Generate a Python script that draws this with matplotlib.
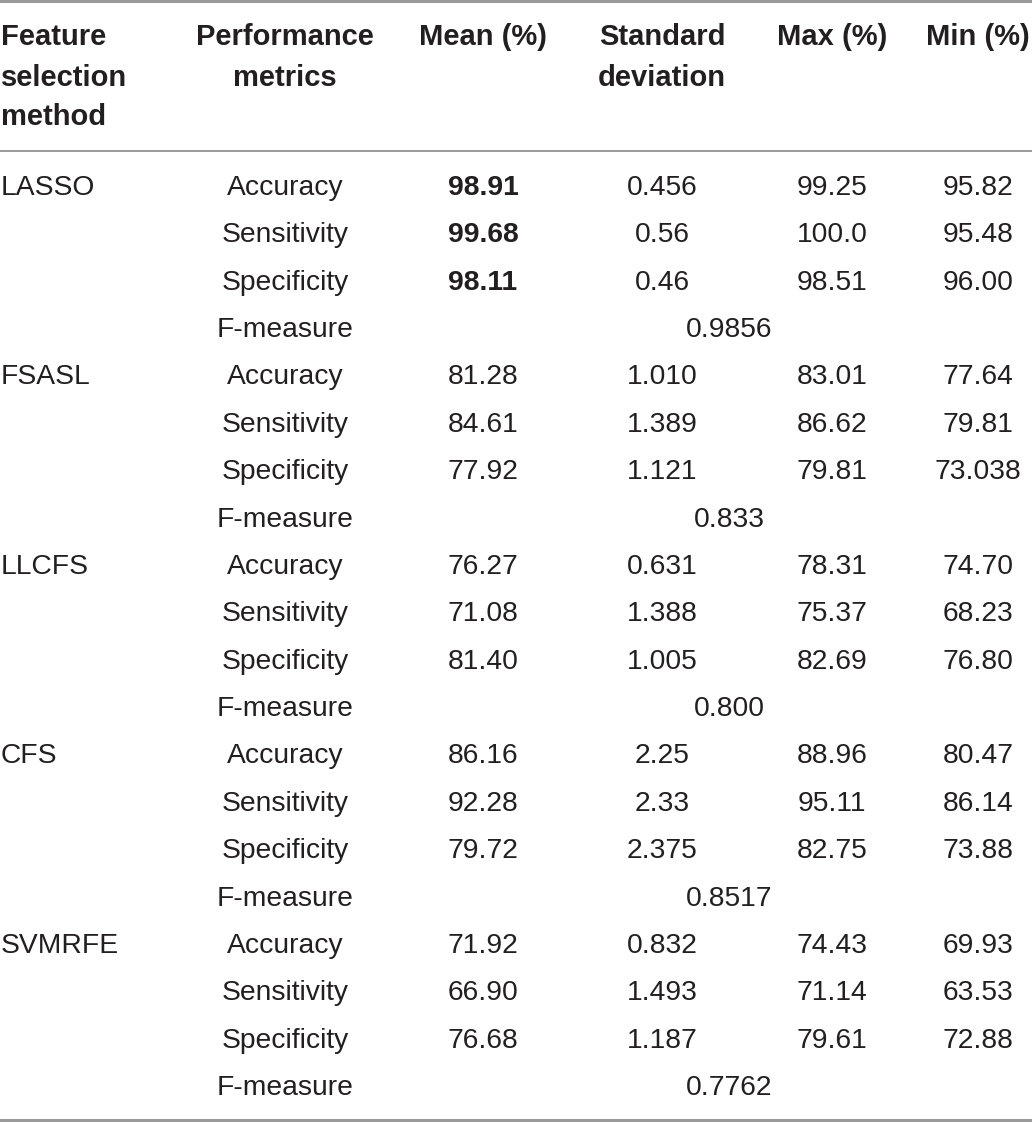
import matplotlib
matplotlib.use("Agg")
import matplotlib.pyplot as plt

# ---- data ----
headers = [["Feature", "selection", "method"],
           ["Performance", "metrics"],
           ["Mean (%)"],
           ["Standard", "deviation"],
           ["Max (%)"],
           ["Min (%)"]]
methods = ["LASSO", "FSASL", "LLCFS", "CFS", "SVMRFE"]
metrics = ["Accuracy", "Sensitivity", "Specificity"]
mean_vals = [["98.91", "99.68", "98.11"],
             ["81.28", "84.61", "77.92"],
             ["76.27", "71.08", "81.40"],
             ["86.16", "92.28", "79.72"],
             ["71.92", "66.90", "76.68"]]
std_vals = [["0.456", "0.56", "0.46"],
            ["1.010", "1.389", "1.121"],
            ["0.631", "1.388", "1.005"],
            ["2.25", "2.33", "2.375"],
            ["0.832", "1.493", "1.187"]]
max_vals = [["99.25", "100.0", "98.51"],
            ["83.01", "86.62", "79.81"],
            ["78.31", "75.37", "82.69"],
            ["88.96", "95.11", "82.75"],
            ["74.43", "71.14", "79.61"]]
min_vals = [["95.82", "95.48", "96.00"],
            ["77.64", "79.81", "73.038"],
            ["74.70", "68.23", "76.80"],
            ["80.47", "86.14", "73.88"],
            ["69.93", "63.53", "72.88"]]
f_measure = ["0.9856", "0.833", "0.800", "0.8517", "0.7762"]
bold_methods = ["LASSO"]

# ---- layout ----
W, H = 1032, 1122
fig = plt.figure(figsize=(W / 100, H / 100), dpi=100)
ax = fig.add_axes([0, 0, 1, 1])
ax.set_xlim(0, W)
ax.set_ylim(H, 0)
ax.axis("off")

FONT = "Liberation Sans"
TXT = "#231f20"
LINE = "#9a9a9a"
FS = 20.3
FSH = 21

col_x = [1, 285, 483, 662, 832, 978]
col_ha = ["left", "center", "center", "center", "center", "center"]
f_x = 729

head_base = [45, 86, 125]
for c, lines in enumerate(headers):
    for k, t in enumerate(lines):
        ax.text(col_x[c], head_base[k], t, ha=col_ha[c], va="baseline",
                fontsize=FSH, fontweight="bold", family=FONT, color=TXT)

ax.axhline(1, color=LINE, lw=2.2)
ax.axhline(151, color=LINE, lw=1.4)
ax.axhline(1120, color=LINE, lw=2.2)

y0, step = 195, 47.37
r = 0
for m, meth in enumerate(methods):
    ax.text(col_x[0], y0 + r * step, meth, ha="left", va="baseline",
            fontsize=FS, family=FONT, color=TXT)
    for j, met in enumerate(metrics):
        y = y0 + r * step
        ax.text(col_x[1], y, met, ha="center", va="baseline",
                fontsize=FS, family=FONT, color=TXT)
        bw = "bold" if meth in bold_methods else "normal"
        ax.text(col_x[2], y, mean_vals[m][j], ha="center", va="baseline",
                fontsize=FS, family=FONT, color=TXT, fontweight=bw)
        ax.text(col_x[3], y, std_vals[m][j], ha="center", va="baseline",
                fontsize=FS, family=FONT, color=TXT)
        ax.text(col_x[4], y, max_vals[m][j], ha="center", va="baseline",
                fontsize=FS, family=FONT, color=TXT)
        ax.text(col_x[5], y, min_vals[m][j], ha="center", va="baseline",
                fontsize=FS, family=FONT, color=TXT)
        r += 1
    y = y0 + r * step
    ax.text(col_x[1], y, "F-measure", ha="center", va="baseline",
            fontsize=FS, family=FONT, color=TXT)
    ax.text(f_x, y, f_measure[m], ha="center", va="baseline",
            fontsize=FS, family=FONT, color=TXT)
    r += 1

fig.savefig("out.png", dpi=100, facecolor="white")
